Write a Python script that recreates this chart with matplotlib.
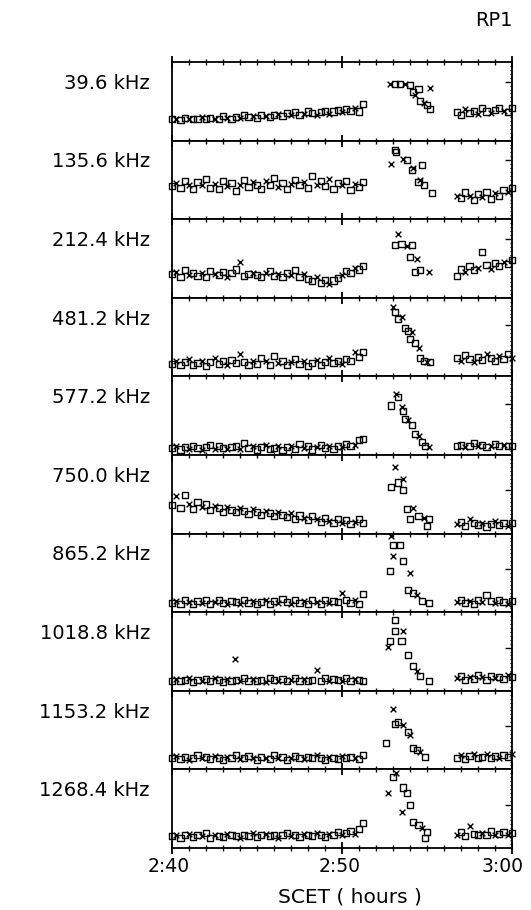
import numpy as np
import matplotlib
matplotlib.use('Agg')
import matplotlib.pyplot as plt
from matplotlib.ticker import MultipleLocator, FixedLocator
from matplotlib.transforms import offset_copy

# channel labels, top to bottom
freqs = ['39.6 kHz', '135.6 kHz', '212.4 kHz', '481.2 kHz', '577.2 kHz',
         '750.0 kHz', '865.2 kHz', '1018.8 kHz', '1153.2 kHz', '1268.4 kHz']
xtick_pos = [0, 10, 20]
xtick_labels = ['2:40', '2:50', '3:00']

# minutes after 2:40 - quiet stretch before and after the event
base_t = np.arange(0, 11.5, 0.25)
late_t = np.arange(16.75, 20.01, 0.25)

# intensity, % of panel height
p1_base = [27, 28, 26, 29, 27, 28, 27, 30, 28, 29, 27, 28, 31, 29, 28, 30, 29, 33, 30, 31, 29, 32, 31,
           30, 33, 34, 31, 35, 33, 36, 32, 34, 37, 35, 33, 36, 38, 34, 37, 39, 36, 40, 38, 41, 37, 46]
p2_base = [42, 46, 40, 48, 43, 38, 47, 44, 51, 40, 45, 39, 48, 42, 46, 36, 44, 50, 41, 47, 43, 39, 49,
           44, 53, 41, 46, 38, 45, 50, 43, 47, 40, 55, 44, 48, 42, 51, 39, 46, 43, 49, 37, 45, 41, 47]
p3_base = [30, 33, 27, 35, 29, 32, 28, 31, 26, 34, 30, 29, 33, 27, 31, 36, 46, 28, 30, 32, 29, 27, 31,
           34, 28, 30, 26, 32, 29, 35, 27, 30, 24, 21, 26, 19, 23, 17, 22, 25, 29, 34, 32, 38, 36, 41]
p4_base = [16, 19, 14, 18, 22, 15, 17, 20, 13, 18, 24, 16, 19, 15, 21, 17, 28, 18, 14, 20, 16, 23, 19,
           15, 26, 17, 20, 14, 18, 22, 16, 19, 13, 17, 21, 15, 18, 24, 17, 20, 16, 22, 19, 31, 25, 31]
p5_base = [9, 11, 7, 10, 8, 12, 9, 6, 10, 13, 8, 11, 9, 7, 10, 12, 8, 15, 9, 11, 7, 10, 13,
           8, 9, 11, 6, 10, 12, 8, 14, 9, 11, 7, 10, 13, 9, 11, 8, 12, 10, 14, 11, 13, 19, 20]
p6_base = [36, 48, 33, 49, 38, 31, 40, 34, 37, 30, 35, 32, 28, 34, 30, 27, 32, 29, 25, 31, 27, 24, 29,
           26, 22, 28, 24, 21, 26, 19, 23, 20, 17, 22, 18, 15, 20, 16, 13, 18, 14, 17, 12, 15, 19, 13]
p7_base = [12, 14, 11, 15, 13, 10, 14, 12, 16, 11, 13, 15, 12, 10, 14, 13, 11, 16, 12, 14, 10, 13, 15,
           11, 14, 12, 17, 13, 11, 15, 12, 14, 10, 16, 13, 11, 15, 12, 14, 13, 24, 16, 12, 15, 11, 23]
p8_base = [13, 15, 12, 14, 16, 11, 14, 13, 15, 12, 16, 14, 11, 15, 13, 14, 12, 16, 13, 15, 12, 14, 11,
           16, 14, 13, 15, 12, 14, 16, 13, 15, 12, 14, 26, 13, 16, 12, 15, 14, 13, 16, 12, 15, 14, 13]
p9_base = [14, 17, 13, 16, 12, 15, 18, 14, 16, 13, 17, 15, 12, 16, 14, 18, 13, 15, 17, 14, 12, 16, 15,
           13, 18, 14, 16, 12, 15, 17, 14, 13, 16, 15, 18, 14, 12, 16, 15, 13, 17, 14, 16, 15, 13, 18]
p10_base = [15, 17, 13, 16, 18, 14, 16, 15, 19, 13, 17, 15, 14, 18, 16, 15, 13, 17, 15, 19, 14, 16, 18,
            15, 17, 13, 16, 19, 15, 17, 14, 18, 16, 15, 19, 17, 14, 18, 16, 20, 17, 19, 22, 18, 24, 32]

p1_late = [36, 33, 40, 35, 38, 34, 41, 37, 35, 39, 42, 38, 36, 41]
p2_late = [30, 27, 34, 29, 24, 32, 28, 35, 26, 33, 30, 37, 34, 40]
p3_late = [28, 36, 33, 40, 35, 38, 58, 42, 37, 44, 40, 46, 43, 48]
p4_late = [23, 19, 27, 22, 18, 25, 21, 29, 24, 20, 26, 22, 28, 24]
p5_late = [11, 13, 10, 12, 15, 11, 13, 10, 12, 14, 11, 13, 12, 11]
p6_late = [12, 15, 10, 18, 13, 11, 14, 9, 12, 16, 11, 13, 10, 14]
p7_late = [13, 15, 12, 14, 11, 16, 13, 22, 14, 12, 15, 13, 11, 14]
p8_late = [16, 19, 14, 18, 15, 20, 17, 14, 19, 16, 18, 15, 20, 17]
p9_late = [15, 18, 13, 17, 20, 14, 16, 19, 15, 17, 14, 18, 16, 19]
p10_late = [17, 20, 15, 28, 18, 16, 19, 17, 21, 16, 18, 20, 17, 19]

# the event itself (plus odd stray points)
p1_evt_t = [12.8, 13.1, 13.4, 13.7, 14.0, 14.2, 14.3, 14.5, 14.6, 14.8, 15.0, 15.2, 15.2]
p1_evt_v = [72, 72, 72, 72, 71, 62, 58, 66, 50, 48, 45, 40, 67]
p2_evt_t = [12.9, 13.1, 13.2, 13.6, 13.8, 14.1, 14.2, 14.7, 14.5, 14.6, 14.8, 15.3]
p2_evt_v = [70, 88, 86, 77, 75, 63, 65, 69, 47, 50, 44, 33]
p3_evt_t = [13.3, 13.1, 13.5, 13.8, 14.1, 14.0, 14.4, 14.3, 14.6, 15.1]
p3_evt_v = [81, 67, 68, 66, 67, 52, 50, 33, 35, 33]
p4_evt_t = [13.0, 13.1, 13.3, 13.5, 13.7, 13.9, 14.1, 14.0, 14.3, 14.5, 14.6, 14.8, 15.0, 15.2]
p4_evt_v = [88, 82, 73, 76, 62, 58, 56, 48, 42, 36, 24, 20, 18, 18]
p5_evt_t = [13.2, 13.3, 12.9, 13.5, 13.6, 13.7, 13.9, 14.1, 14.3, 14.5, 14.7, 14.9, 15.1]
p5_evt_v = [77, 74, 63, 61, 56, 46, 44, 38, 27, 24, 17, 12, 10]
p6_evt_t = [13.1, 12.9, 13.3, 13.6, 13.6, 13.8, 14.2, 14.0, 14.5, 14.8, 15.1, 15.0]
p6_evt_v = [85, 59, 65, 69, 55, 31, 33, 18, 22, 20, 18, 10]
p7_evt_t = [12.9, 13.0, 13.4, 13.0, 13.6, 12.8, 14.0, 13.9, 14.2, 14.4, 14.7, 15.1]
p7_evt_v = [97, 85, 85, 72, 65, 53, 50, 28, 25, 22, 14, 12]
p8_evt_t = [3.7, 13.1, 13.1, 13.6, 12.8, 13.5, 12.7, 13.9, 14.2, 14.4, 14.6, 15.1]
p8_evt_v = [41, 90, 76, 76, 63, 63, 56, 45, 31, 25, 19, 13]
p9_evt_t = [13.0, 13.1, 13.3, 13.6, 12.6, 13.9, 14.0, 14.2, 14.4, 14.6, 14.9]
p9_evt_v = [77, 58, 60, 56, 33, 48, 44, 27, 25, 22, 16]
p10_evt_t = [13.2, 13.0, 13.6, 12.7, 13.8, 14.0, 13.5, 14.2, 14.5, 14.7, 15.0, 14.9]
p10_evt_v = [96, 90, 77, 70, 70, 55, 46, 33, 29, 25, 20, 13]

base = [p1_base, p2_base, p3_base, p4_base, p5_base, p6_base, p7_base, p8_base, p9_base, p10_base]
late = [p1_late, p2_late, p3_late, p4_late, p5_late, p6_late, p7_late, p8_late, p9_late, p10_late]
evt_t = [p1_evt_t, p2_evt_t, p3_evt_t, p4_evt_t, p5_evt_t, p6_evt_t, p7_evt_t, p8_evt_t, p9_evt_t, p10_evt_t]
evt_v = [p1_evt_v, p2_evt_v, p3_evt_v, p4_evt_v, p5_evt_v, p6_evt_v, p7_evt_v, p8_evt_v, p9_evt_v, p10_evt_v]
ref_tick = [0.75, 0.75, 0.75, 0.65, 0.65, 0.55, 0.55, 0.55, 0.55, 0.55]

plt.rcParams['font.family'] = 'DejaVu Sans'
fig, axes = plt.subplots(10, 1, figsize=(5.31, 9.10), dpi=100, sharex=True)
fig.subplots_adjust(left=172/531, right=512/531, top=1 - 62/910, bottom=1 - 848/910, hspace=0)

for i, ax in enumerate(axes):
    t = np.concatenate([base_t, evt_t[i], late_t])
    v = np.concatenate([base[i], evt_v[i], late[i]]) / 100.0
    # mix of open squares and crosses like the original plotter output
    for k, m in enumerate(['s', 'x', 's']):
        if m == 's':
            ax.scatter(t[k::3], v[k::3], marker='s', s=19, facecolors='none',
                       edgecolors='black', linewidths=1.0, clip_on=False)
        else:
            ax.scatter(t[k::3], v[k::3], marker='x', s=17, color='black', linewidths=1.0,
                       clip_on=False)

    ax.set_xlim(0, 20)
    ax.set_ylim(0, 1)
    for sp in ax.spines.values():
        sp.set_linewidth(1.3)

    ax.xaxis.set_major_locator(MultipleLocator(10))
    ax.xaxis.set_minor_locator(MultipleLocator(1))
    last = (i == len(axes) - 1)
    ax.tick_params(axis='x', which='both', direction='inout', top=True,
                   bottom=last, labelbottom=False)
    ax.tick_params(axis='x', which='major', length=9, width=1.3)
    ax.tick_params(axis='x', which='minor', length=5, width=1.0)

    ax.yaxis.set_major_locator(FixedLocator([ref_tick[i]]))
    ax.yaxis.set_minor_locator(MultipleLocator(0.05))
    ax.tick_params(axis='y', which='both', left=False, labelleft=False, right=True,
                   direction='in')
    ax.tick_params(axis='y', which='major', length=5, width=1.0)
    ax.tick_params(axis='y', which='minor', length=1.5, width=1.0)

    ax.text(-0.065, 0.73, freqs[i], transform=ax.transAxes, ha='right', va='center', fontsize=14)

# time labels under the last panel, end ones nudged inwards like the original
ax = axes[-1]
for x, lab, dx in zip(xtick_pos, xtick_labels, [-3, -2, -9]):
    tr = offset_copy(ax.get_xaxis_transform(), fig=fig, x=dx, y=0, units='dots')
    ax.text(x, -0.24, lab, transform=tr, ha='center', va='center', fontsize=13.5)

fig.text(350/531, 1 - 897/910, 'SCET ( hours )', ha='center', va='center', fontsize=14.5)
fig.text(513/531, 1 - 21/910, 'RP1', ha='right', va='center', fontsize=14)

fig.savefig('out.png', dpi=100)
